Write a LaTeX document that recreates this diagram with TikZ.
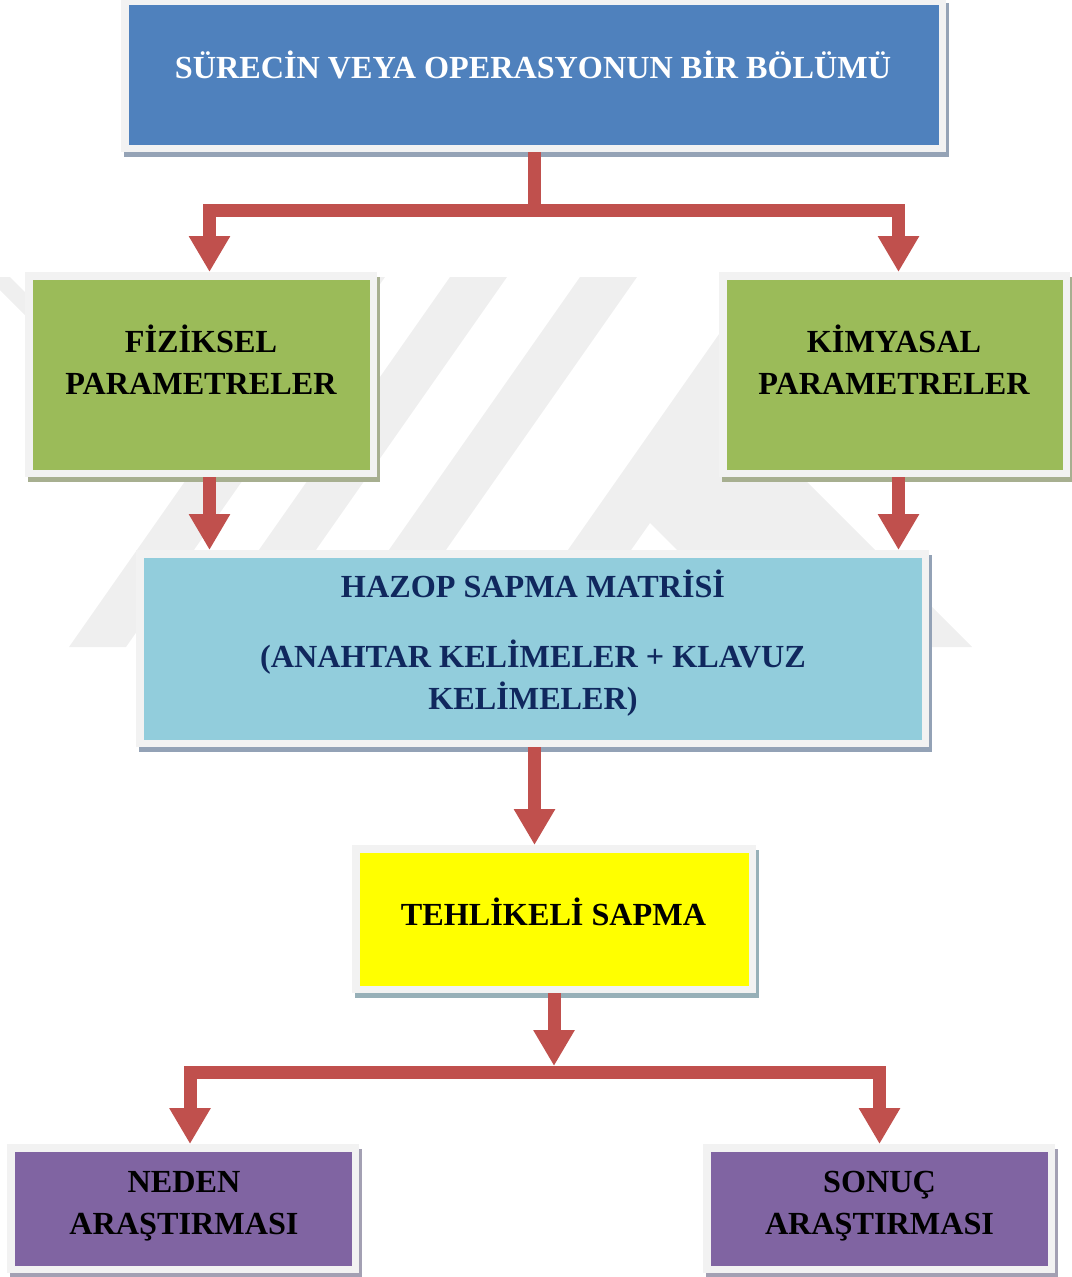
\documentclass[tikz,border=0pt]{standalone}
\usepackage{fontspec}
\setmainfont{Liberation Serif}
\usetikzlibrary{arrows.meta,backgrounds}

\definecolor{framegray}{HTML}{F2F2F2}
\definecolor{boxblue}{HTML}{4F81BD}
\definecolor{boxgreen}{HTML}{9BBB59}
\definecolor{boxcyan}{HTML}{92CDDC}
\definecolor{boxyellow}{HTML}{FFFF00}
\definecolor{boxpurple}{HTML}{8064A2}
\definecolor{arrowred}{HTML}{C0504D}
\definecolor{navytext}{HTML}{10285E}
\definecolor{shblue}{HTML}{95A3B6}
\definecolor{shgreen}{HTML}{A7AF90}
\definecolor{shcyan}{HTML}{93A2B6}
\definecolor{shyellow}{HTML}{97B0B8}
\definecolor{shpurple}{HTML}{A3A0B3}
\definecolor{wmgray}{HTML}{EFEFEF}

\tikzset{
  panel/.style={rectangle, draw=framegray, line width=7.5pt, inner sep=0pt},
  caption/.style={anchor=base, inner sep=0pt,
    font=\fontsize{32.2}{42.5}\selectfont\bfseries},
  bigtip/.tip={Triangle[width=39pt,length=36pt]},
  conn/.style={draw=arrowred, line width=13pt, line join=miter},
}

\begin{document}
\begin{tikzpicture}[x=1pt,y=-1pt]
\useasboundingbox (0,0) rectangle (1071,1277);

% boxes
\node[panel, fill=boxblue,   minimum width=817.5pt, minimum height=147pt]   (top)     at (533.5,74.75) {};
\node[panel, fill=boxgreen,  minimum width=344.5pt, minimum height=197.5pt] (fizik)   at (201,374.5) {};
\node[panel, fill=boxgreen,  minimum width=343.5pt, minimum height=197.5pt] (kimya)   at (894.5,374.5) {};
\node[panel, fill=boxcyan,   minimum width=785.5pt, minimum height=189.5pt] (hazop)   at (532.5,648.5) {};
\node[panel, fill=boxyellow, minimum width=396.5pt, minimum height=140.5pt] (tehlike) at (554,919) {};
\node[panel, fill=boxpurple, minimum width=344.5pt, minimum height=121.5pt] (neden)   at (183,1208.5) {};
\node[panel, fill=boxpurple, minimum width=344.5pt, minimum height=121.5pt] (sonuc)   at (879,1208.5) {};

% captions
\node[caption, text=white] (topText) at (533,78) {SÜRECİN VEYA OPERASYONUN BİR BÖLÜMÜ};
\node[caption] (fizikText) at (201,352)
  {\begin{tabular}[t]{@{}c@{}}FİZİKSEL\\PARAMETRELER\end{tabular}};
\node[caption] (kimyaText) at (894,352)
  {\begin{tabular}[t]{@{}c@{}}KİMYASAL\\PARAMETRELER\end{tabular}};
\node[caption, text=navytext] (hazopText) at (533,597)
  {\begin{tabular}[t]{@{}c@{}}HAZOP SAPMA MATRİSİ\\[27.5pt](ANAHTAR KELİMELER + KLAVUZ\\KELİMELER)\end{tabular}};
\node[caption] (tehlikeText) at (553.5,925) {TEHLİKELİ SAPMA};
\node[caption] (nedenText) at (184,1192)
  {\begin{tabular}[t]{@{}c@{}}NEDEN\\ARAŞTIRMASI\end{tabular}};
\node[caption] (sonucText) at (879.5,1192)
  {\begin{tabular}[t]{@{}c@{}}SONUÇ\\ARAŞTIRMASI\end{tabular}};

% branching points of the elbow connectors
\coordinate (topsplit) at (534.5,210);
\coordinate (botsplit) at (554,1066);
\coordinate (botbar)   at (554,1072.5);

% connectors
\draw[conn] (top.south -| topsplit) -- (topsplit);
\draw[conn, bigtip-bigtip] ([xshift=8.5pt]fizik.north) |- (topsplit) -| ([xshift=4pt]kimya.north);
\draw[conn, -bigtip] ([xshift=8.5pt]fizik.south) -- ([xshift=8.5pt]fizik.south |- hazop.north);
\draw[conn, -bigtip] ([xshift=4pt]kimya.south) -- ([xshift=4pt]kimya.south |- hazop.north);
\draw[conn, -bigtip] ([xshift=2pt]hazop.south) -- ([xshift=2pt]hazop.south |- tehlike.north);
\draw[conn, -bigtip] (tehlike.south) -- (botsplit);
\draw[conn, bigtip-bigtip] ([xshift=7pt]neden.north) |- (botbar) -| ([xshift=0.5pt]sonuc.north);

\begin{pgfonlayer}{background}
  % faint emblem behind the chart: slanted bands and the right leg with its notch
  \begin{scope}[wmgray]
    \foreach \t in {328,450,580}
      \fill (\t,277) -- (\t+57,277) -- (\t-202,647) -- (\t-259,647) -- cycle;
    \fill (759,277) -- (500,647) -- (563,647) -- (650,523) -- (774,647)
          -- (972,647) -- (802,477) -- (800,277) -- cycle;
    \fill (0,277) -- (10,277) -- (40,307) -- (40,330) -- (0,290) -- cycle;
  \end{scope}
  % drop shadows of the boxes
  \foreach \n/\c in {top/shblue, fizik/shgreen, kimya/shgreen, hazop/shcyan,
                     tehlike/shyellow, neden/shpurple, sonuc/shpurple}
    \fill[\c] ([shift={(3,5)}]\n.north west) rectangle ([shift={(3,5)}]\n.south east);
\end{pgfonlayer}
\end{tikzpicture}
\end{document}
